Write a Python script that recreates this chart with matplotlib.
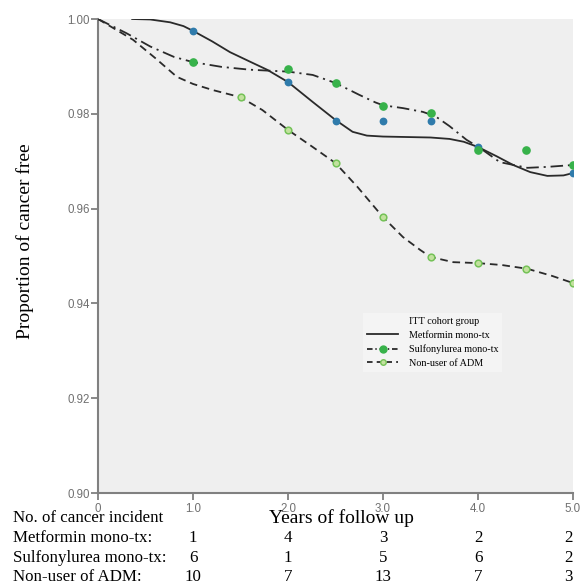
import matplotlib
matplotlib.use("Agg")
import matplotlib.pyplot as plt
from matplotlib.lines import Line2D

plt.rcParams['lines.scale_dashes'] = False

# observed points (years, proportion cancer free)
met_x = [1.0, 2.0, 2.5, 3.0, 3.5, 4.0, 5.0]
met_y = [0.9975, 0.9867, 0.9785, 0.9785, 0.9785, 0.9730, 0.9675]
sul_x = [1.0, 2.0, 2.5, 3.0, 3.5, 4.0, 4.5, 5.0]
sul_y = [0.9909, 0.9894, 0.9865, 0.9816, 0.9801, 0.9724, 0.9724, 0.9692]
non_x = [1.5, 2.0, 2.5, 3.0, 3.5, 4.0, 4.5, 5.0]
non_y = [0.9835, 0.9766, 0.9696, 0.9582, 0.9498, 0.9485, 0.9473, 0.9443]

# smoothed curves
met_cx = [0.36, 0.55, 0.76, 0.9, 1.0, 1.2, 1.39, 1.6, 1.78, 2.0, 2.26, 2.5,
          2.68, 2.83, 3.0, 3.25, 3.5, 3.7, 3.85, 4.0, 4.2, 4.37, 4.55, 4.73, 4.9, 5.0]
met_cy = [1.0, 0.9999, 0.9993, 0.9985, 0.9975, 0.9953, 0.9930, 0.9910, 0.9893, 0.9867,
          0.9825, 0.9787, 0.9762, 0.9754, 0.9752, 0.9751, 0.9750, 0.9747, 0.9741, 0.9730,
          0.9710, 0.9692, 0.9677, 0.9669, 0.9670, 0.9675]
sul_cx = [0.0, 0.3, 0.55, 0.8, 1.0, 1.3, 1.6, 2.0, 2.26, 2.5, 2.75, 2.92, 3.0, 3.21,
          3.42, 3.55, 3.7, 3.88, 4.02, 4.23, 4.52, 4.73, 5.0]
sul_cy = [1.0, 0.9970, 0.9942, 0.9920, 0.9909, 0.9899, 0.9893, 0.9889, 0.9882, 0.9865,
          0.9840, 0.9824, 0.9818, 0.9812, 0.9804, 0.9795, 0.9774, 0.9745, 0.9728, 0.9698,
          0.9686, 0.9688, 0.9692]
non_cx = [0.0, 0.37, 0.6, 0.83, 1.0, 1.21, 1.5, 1.73, 2.0, 2.26, 2.5, 2.73, 3.0,
          3.21, 3.39, 3.5, 3.74, 4.0, 4.25, 4.52, 4.78, 5.0]
non_cy = [1.0, 0.9956, 0.9918, 0.9878, 0.9863, 0.9850, 0.9835, 0.9808, 0.9766, 0.9730,
          0.9696, 0.9646, 0.9582, 0.9540, 0.9513, 0.9498, 0.9487, 0.9485, 0.9481, 0.9473,
          0.9458, 0.9443]

# number of cancer incidents per year
years = [1.0, 2.0, 3.0, 4.0, 5.0]
row_labels = ["Metformin mono-tx:", "Sulfonylurea mono-tx:", "Non-user of ADM:"]
met_n = [1, 4, 3, 2, 2]
sul_n = [6, 1, 5, 6, 2]
non_n = [10, 7, 13, 7, 3]

W, H = 584, 588
fig = plt.figure(figsize=(W / 100, H / 100), dpi=100)
ax = fig.add_axes([98 / W, 1 - 493 / H, 475 / W, 474 / H])
ax.set_facecolor('#efefef')
ax.set_xlim(0, 5)
ax.set_ylim(0.90, 1.00)

line_col = '#2a2a2a'
blue = '#2f7bab'
green = '#37b24a'

ax.plot(met_cx, met_cy, color=line_col, lw=1.3, zorder=3)
ax.plot(sul_cx, sul_cy, color=line_col, lw=1.3, dashes=(9, 3.5, 1.5, 3.5), zorder=3)
ax.plot(non_cx, non_cy, color=line_col, lw=1.3, dashes=(5.5, 3.5), zorder=3)

ax.plot(met_x, met_y, 'o', ms=4.6, color=blue, mec=blue, zorder=4)
ax.plot(sul_x, sul_y, 'o', ms=5.2, color=green, mec=green, zorder=4)
ax.plot(non_x, non_y, 'o', ms=4.8, mfc='#c2e19e', mec='#74c257', mew=1.1, zorder=4)

for s in ['top', 'right']:
    ax.spines[s].set_visible(False)
for s in ['left', 'bottom']:
    ax.spines[s].set_color('#808080')
    ax.spines[s].set_linewidth(1.5)

ax.set_xticks([0, 1, 2, 3, 4, 5])
ax.set_xticklabels(['0', '1.0', '2.0', '3.0', '4.0', '5.0'])
ax.set_yticks([0.90, 0.92, 0.94, 0.96, 0.98, 1.00])
ax.set_yticklabels(['0.90', '0.92', '0.94', '0.96', '0.98', '1.00'])
ax.tick_params(axis='both', colors='#808080', labelcolor='#707070', width=1.3,
               labelsize=8.3)
ax.tick_params(axis='x', length=5, pad=2.5)
ax.tick_params(axis='y', length=5, pad=1)
for lab in ax.get_xticklabels() + ax.get_yticklabels():
    lab.set_family('Liberation Sans')

serif = 'Liberation Serif'
fig.text(25 / W, 1 - 241 / H, 'Proportion of cancer free', rotation=90,
         ha='center', va='center', family=serif, fontsize=14)
fig.text(341 / W, 1 - 518 / H, 'Years of follow up', ha='center', va='center',
         family=serif, fontsize=14)

# number of incidents table under the axis
tsize = 12.2
fig.text(13 / W, 1 - 518 / H, 'No. of cancer incident', ha='left', va='center',
         family=serif, fontsize=tsize)
row_y = [538, 558, 577]
for lab, counts, py in zip(row_labels, [met_n, sul_n, non_n], row_y):
    fig.text(13 / W, 1 - py / H, lab, ha='left', va='center', family=serif,
             fontsize=tsize)
    for yr, c in zip(years, counts):
        px = 98 + yr * 95 - (5 if yr == 5.0 else 0)
        fig.text(px / W, 1 - py / H, str(c), ha='center', va='center',
                 family=serif, fontsize=tsize)

handles = [
    Line2D([], [], linestyle='none'),
    Line2D([], [], color=line_col, lw=1.3),
    Line2D([], [], color=line_col, lw=1.3, dashes=(4, 2, 1, 2), marker='o',
           ms=5, mfc=green, mec=green),
    Line2D([], [], color=line_col, lw=1.3, dashes=(4, 3), marker='o',
           ms=4, mfc='#c2e19e', mec='#74c257'),
]
labels = ['ITT cohort group', 'Metformin mono-tx', 'Sulfonylurea mono-tx',
          'Non-user of ADM']
leg = fig.legend(handles, labels, loc='upper left',
                 bbox_to_anchor=(363 / W, 1 - 313 / H), borderaxespad=0,
                 prop={'family': serif, 'size': 7.3}, handlelength=3.1,
                 handletextpad=1.0, labelspacing=0.45, borderpad=0.4,
                 numpoints=1, fancybox=False, framealpha=1,
                 facecolor='#f4f4f4', edgecolor='none')

fig.savefig('out.png', dpi=100)
